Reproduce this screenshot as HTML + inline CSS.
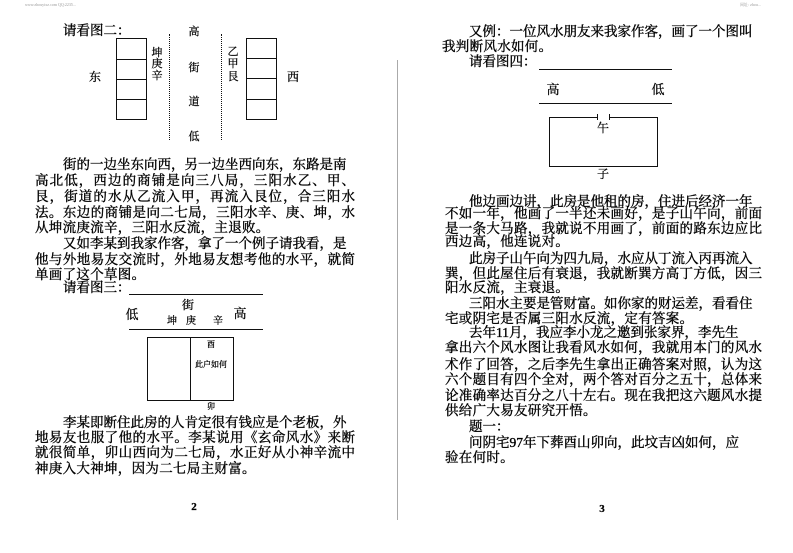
<!DOCTYPE html>
<html><head><meta charset="utf-8"><style>
body{margin:0;width:793px;height:553px;background:#fff;position:relative;overflow:hidden;font-family:"Liberation Serif","Noto Serif CJK SC",serif;color:#000}
.t{position:absolute;height:16px;line-height:16px;font-size:13.5px;white-space:nowrap;-webkit-text-stroke:0.35px #000}
.L{left:35px;width:320px;text-align:justify;text-align-last:justify}
.R{left:445px;width:317px;text-align:justify;text-align-last:justify}
.Li{left:63px;width:292px}
.Ri{left:469px;width:293px}
.e{text-align:left;text-align-last:left;width:auto;letter-spacing:.3px}
.a{position:absolute;font-size:11px;line-height:12px;transform:translate(-50%,-50%);white-space:nowrap;-webkit-text-stroke:0.25px #000}
.ln{position:absolute;background:#111}
.box{position:absolute;border:1.3px solid #111;box-sizing:border-box}
.dash{position:absolute;width:0;border-left:1.5px dotted #111}
</style></head><body>
<div style="position:absolute;left:25px;top:2px;font-size:4px;color:#999">www.zhouyixz.com  QQ:2235...</div>
<div style="position:absolute;left:740px;top:2px;font-size:4px;color:#999">网址: zhou...</div>
<div class="ln" style="left:397px;top:60px;width:1px;height:460px;background:#aaa"></div>

<div class="t" style="left:63px;top:23px">请看图二：</div>
<div class="box" style="left:116px;top:38px;width:31px;height:82px"></div>
<div class="ln" style="left:116px;top:59px;width:31px;height:1px"></div>
<div class="ln" style="left:116px;top:79px;width:31px;height:1px"></div>
<div class="ln" style="left:116px;top:99px;width:31px;height:1px"></div>
<div class="box" style="left:246px;top:38px;width:31px;height:82px"></div>
<div class="ln" style="left:246px;top:58px;width:31px;height:1px"></div>
<div class="ln" style="left:246px;top:78px;width:31px;height:1px"></div>
<div class="ln" style="left:246px;top:99px;width:31px;height:1px"></div>
<div class="dash" style="left:169px;top:34px;height:106px"></div>
<div class="dash" style="left:221px;top:34px;height:106px"></div>
<div class="a" style="left:95px;top:77px;font-size:12px">东</div>
<div class="a" style="left:293px;top:77px;font-size:12px">西</div>
<div class="a" style="left:157px;top:53px">坤</div><div class="a" style="left:157px;top:64px">庚</div><div class="a" style="left:157px;top:76px">辛</div>
<div class="a" style="left:233px;top:52px">乙</div><div class="a" style="left:233px;top:64px">甲</div><div class="a" style="left:233px;top:77px">艮</div>
<div class="a" style="left:194px;top:32px">高</div><div class="a" style="left:194px;top:68px">街</div><div class="a" style="left:194px;top:102px">道</div><div class="a" style="left:194px;top:137px">低</div>

<div class="t Li" style="top:157px">街的一边坐东向西，另一边坐西向东，东路是南</div>
<div class="t L" style="top:173px">高北低，西边的商铺是向三八局，三阳水乙、甲、</div>
<div class="t L" style="top:189px">艮，街道的水从乙流入甲，再流入艮位，合三阳水</div>
<div class="t L" style="top:205px">法。东边的商铺是向二七局，三阳水辛、庚、坤，水</div>
<div class="t L e" style="top:220px">从坤流庚流辛，三阳水反流，主退败。</div>
<div class="t Li" style="top:236px">又如李某到我家作客，拿了一个例子请我看，是</div>
<div class="t L" style="top:252px">他与外地易友交流时，外地易友想考他的水平，就简</div>
<div class="t L e" style="top:267px">单画了这个草图。</div>
<div class="t" style="left:63px;top:280px">请看图三：</div>
<div class="ln" style="left:129px;top:294px;width:134px;height:1.3px"></div>
<div class="ln" style="left:129px;top:329px;width:134px;height:1.3px"></div>
<div class="a" style="left:188px;top:305px;font-size:12px">街</div>
<div class="a" style="left:132px;top:315px;font-size:13px">低</div>
<div class="a" style="left:240px;top:314px;font-size:13px">高</div>
<div class="a" style="left:172px;top:322px;font-size:10px">坤</div>
<div class="a" style="left:191px;top:322px;font-size:10px">庚</div>
<div class="a" style="left:218px;top:322px;font-size:10px">辛</div>
<div class="box" style="left:147px;top:337px;width:87px;height:64px"></div>
<div class="ln" style="left:190px;top:337px;width:1.3px;height:64px"></div>
<div class="a" style="left:211px;top:345px;font-size:8px">酉</div>
<div class="a" style="left:211px;top:365px;font-size:8px">此户如何</div>
<div class="a" style="left:211px;top:407px;font-size:8px">卯</div>
<div class="t Li" style="top:415px">李某即断住此房的人肯定很有钱应是个老板，外</div>
<div class="t L" style="top:430px">地易友也服了他的水平。李某说用《玄命风水》来断</div>
<div class="t L" style="top:445px">就很简单，卯山西向为二七局，水正好从小神辛流中</div>
<div class="t L e" style="top:461px">神庚入大神坤，因为二七局主财富。</div>
<div class="a" style="left:194px;top:507px;font-size:11px;font-weight:bold">2</div>

<div class="t Ri" style="top:24px">又例：一位风水朋友来我家作客，画了一个图叫</div>
<div class="t R e" style="left:442px;top:39px">我判断风水如何。</div>
<div class="t" style="left:469px;top:54px">请看图四：</div>
<div class="ln" style="left:539px;top:69px;width:133px;height:1.3px"></div>
<div class="ln" style="left:539px;top:103px;width:133px;height:1.3px"></div>
<div class="a" style="left:553px;top:90px;font-size:13px">高</div>
<div class="a" style="left:658px;top:90px;font-size:13px">低</div>
<div class="ln" style="left:549px;top:117px;width:1.3px;height:49px"></div>
<div class="ln" style="left:657px;top:117px;width:1.3px;height:49px"></div>
<div class="ln" style="left:549px;top:166px;width:109px;height:1.3px"></div>
<div class="ln" style="left:549px;top:117px;width:48px;height:1.3px"></div>
<div class="ln" style="left:609px;top:117px;width:49px;height:1.3px"></div>
<div class="ln" style="left:597px;top:114px;width:1.3px;height:6px"></div>
<div class="ln" style="left:609px;top:114px;width:1.3px;height:6px"></div>
<div class="a" style="left:603px;top:128px;font-size:12px">午</div>
<div class="a" style="left:603px;top:174px;font-size:12px">子</div>

<div class="t Ri" style="top:194px">他边画边讲，此房是他租的房，住进后经济一年</div>
<div class="t R" style="top:206px">不如一年，他画了一半还未画好，是子山午向，前面</div>
<div class="t R" style="top:221px">是一条大马路，我就说不用画了，前面的路东边应比</div>
<div class="t R e" style="top:234px">西边高，他连说对。</div>
<div class="t Ri" style="top:251px">此房子山午向为四九局，水应从丁流入丙再流入</div>
<div class="t R" style="top:266px">巽，但此屋住后有衰退，我就断巽方高丁方低，因三</div>
<div class="t R e" style="top:280px">阳水反流，主衰退。</div>
<div class="t Ri" style="top:296px">三阳水主要是管财富。如你家的财运差，看看住</div>
<div class="t R e" style="top:311px">宅或阴宅是否属三阳水反流，定有答案。</div>
<div class="t Ri" style="top:325px">去年11月，我应李小龙之邀到张家界，李先生</div>
<div class="t R" style="top:340px">拿出六个风水图让我看风水如何，我就用本门的风水</div>
<div class="t R" style="top:357px">术作了回答，之后李先生拿出正确答案对照，认为这</div>
<div class="t R" style="top:372px">六个题目有四个全对，两个答对百分之五十，总体来</div>
<div class="t R" style="top:388px">论准确率达百分之八十左右。现在我把这六题风水提</div>
<div class="t R e" style="top:403px">供给广大易友研究开悟。</div>
<div class="t" style="left:469px;top:419px">题一：</div>
<div class="t Ri" style="top:435px">问阴宅97年下葬酉山卯向，此坟吉凶如何，应</div>
<div class="t R e" style="top:450px">验在何时。</div>
<div class="a" style="left:602px;top:509px;font-size:11px;font-weight:bold">3</div>
</body></html>
